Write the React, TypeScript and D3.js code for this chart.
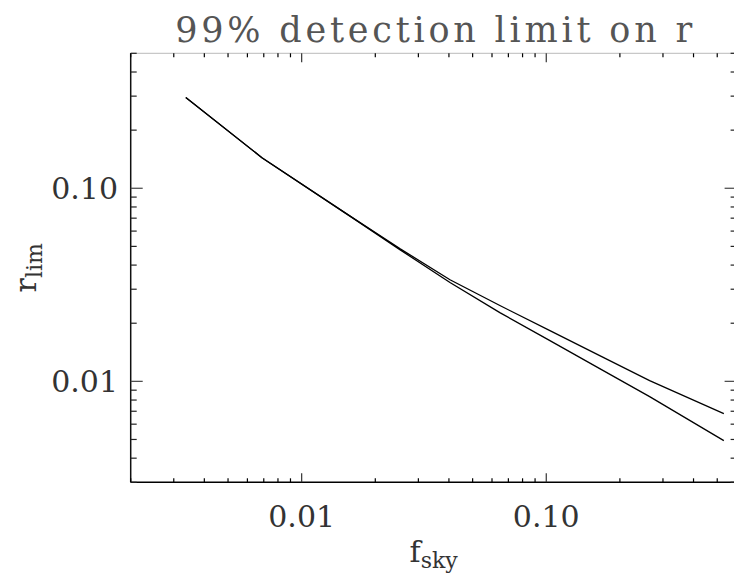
import React from "react";
import * as d3 from "d3";

// f_sky and r_lim (log-log)
const fskyA = [0.00336, 0.00688, 0.015, 0.0252, 0.0404, 0.0646, 0.1035, 0.1654, 0.2646, 0.532];
const rlimA = [0.295, 0.144, 0.0748, 0.0481, 0.0325, 0.0227, 0.01625, 0.01164, 0.00833, 0.00493];
const fskyB = [0.00336, 0.00688, 0.015, 0.0252, 0.0404, 0.0646, 0.1035, 0.1654, 0.2646, 0.532];
const rlimB = [0.295, 0.144, 0.0748, 0.0487, 0.0336, 0.0247, 0.0183, 0.01359, 0.01008, 0.00681];

const xMajor = [0.01, 0.1];
const xMajorLabels = ["0.01", "0.10"];
const xMinor = [0.002, 0.003, 0.004, 0.005, 0.006, 0.007, 0.008, 0.009, 0.02, 0.03, 0.04, 0.05, 0.06, 0.07, 0.08, 0.09, 0.2, 0.3, 0.4, 0.5, 0.6];
const yMajor = [0.01, 0.1];
const yMajorLabels = ["0.01", "0.10"];
const yMinor = [0.003, 0.004, 0.005, 0.006, 0.007, 0.008, 0.009, 0.02, 0.03, 0.04, 0.05, 0.06, 0.07, 0.08, 0.09, 0.2, 0.3, 0.4, 0.5];

const W = 734;
const H = 578;
const font = "'DejaVu Serif', serif";

export default function App() {
  const left = 130.7, right = 736.6, top = 53.3, bottom = 482.3;
  const x = d3.scaleLog().domain([0.002, 0.6]).range([left, right]);
  const y = d3.scaleLog().domain([0.003, 0.5]).range([bottom, top]);

  const line = d3
    .line<[number, number]>()
    .x((d) => x(d[0]))
    .y((d) => y(d[1]));

  const seriesA = fskyA.map((f, i) => [f, rlimA[i]] as [number, number]);
  const seriesB = fskyB.map((f, i) => [f, rlimB[i]] as [number, number]);

  const cx = (left + right) / 2;
  const cy = (top + bottom) / 2;

  return (
    <svg width={W} height={H} style={{ position: "absolute", left: 0, top: 0, background: "#fff" }}>
      {/* frame */}
      <line x1={left} x2={right} y1={top} y2={top} stroke="#bbb" strokeWidth={1} />
      <line x1={left} x2={right} y1={bottom} y2={bottom} stroke="#000" strokeWidth={1.5} />
      <line x1={left} x2={left} y1={top} y2={bottom} stroke="#111" strokeWidth={1.5} />

      {/* x ticks, bottom and top */}
      {xMinor.map((v) => (
        <g key={"xm" + v}>
          <line x1={x(v)} x2={x(v)} y1={bottom} y2={bottom - 4} stroke="#000" strokeWidth={1.2} />
          <line x1={x(v)} x2={x(v)} y1={top} y2={top + 4} stroke="#000" strokeWidth={1.2} />
        </g>
      ))}
      {xMajor.map((v, i) => (
        <g key={"xM" + v}>
          <line x1={x(v)} x2={x(v)} y1={bottom} y2={bottom - 9} stroke="#333" strokeWidth={1.2} />
          <line x1={x(v)} x2={x(v)} y1={top} y2={top + 9} stroke="#333" strokeWidth={1.2} />
          <text x={x(v)} y={527} textAnchor="middle" fontFamily={font} fontSize={30} fill="#333">
            {xMajorLabels[i]}
          </text>
        </g>
      ))}

      {/* y ticks, left and right */}
      {yMinor.map((v) => (
        <g key={"ym" + v}>
          <line x1={left} x2={left + 6} y1={y(v)} y2={y(v)} stroke="#222" strokeWidth={1.2} />
          <line x1={right} x2={right - 6} y1={y(v)} y2={y(v)} stroke="#222" strokeWidth={1.2} />
        </g>
      ))}
      {yMajor.map((v, i) => (
        <g key={"yM" + v}>
          <line x1={left} x2={left + 12} y1={y(v)} y2={y(v)} stroke="#444" strokeWidth={1.2} />
          <line x1={right} x2={right - 12} y1={y(v)} y2={y(v)} stroke="#444" strokeWidth={1.2} />
          <text x={118} y={y(v) + 11} textAnchor="end" fontFamily={font} fontSize={30} fill="#333">
            {yMajorLabels[i]}
          </text>
        </g>
      ))}

      {/* curves */}
      <path d={line(seriesA) ?? ""} fill="none" stroke="#000" strokeWidth={1.3} />
      <path d={line(seriesB) ?? ""} fill="none" stroke="#000" strokeWidth={1.3} />

      {/* title */}
      <text
        x={cx}
        y={42}
        textAnchor="middle"
        fontFamily={font}
        fontSize={35}
        fill="#555"
        textLength={517}
        lengthAdjust="spacing"
      >
        99% detection limit on r
      </text>

      {/* axis titles */}
      <text x={cx} y={562} textAnchor="middle" fontFamily={font} fontSize={30} fill="#333">
        f
        <tspan fontSize={22} dy={6}>sky</tspan>
      </text>
      <text
        transform={`translate(36,${cy}) rotate(-90)`}
        textAnchor="middle"
        fontFamily={font}
        fontSize={30}
        fill="#333"
      >
        r
        <tspan fontSize={22} dy={6}>lim</tspan>
      </text>
    </svg>
  );
}
